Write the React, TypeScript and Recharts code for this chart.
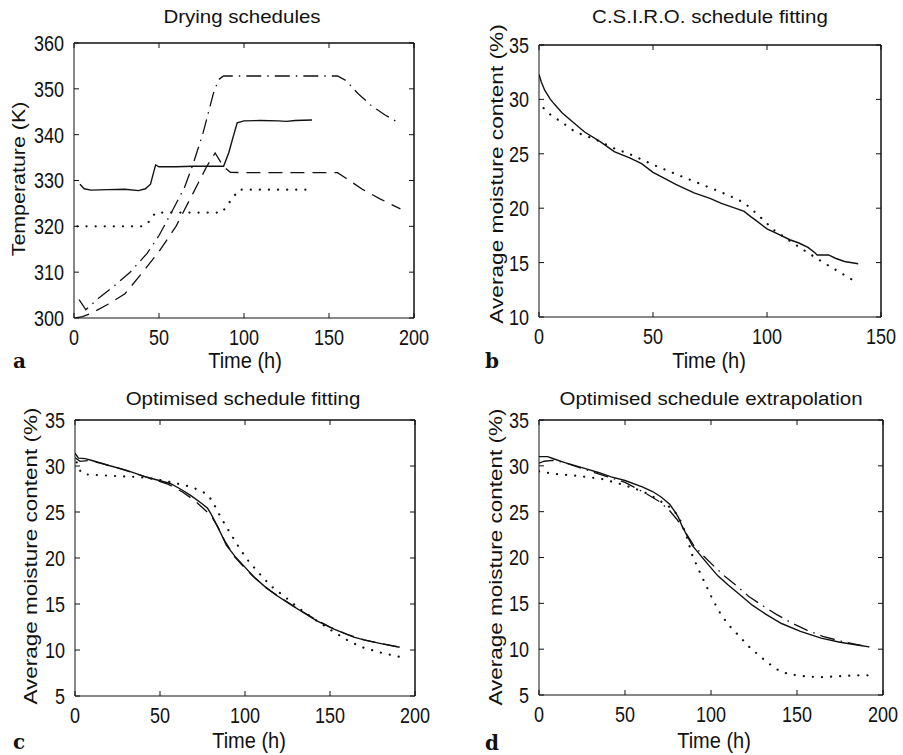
import { LineChart, Line, XAxis, YAxis, ReferenceLine } from "recharts";

// time (h), value pairs
const dryingSolid = [
  [3.5, 329.2], [6, 328.2], [10, 327.9], [20, 328], [30, 328.1], [38, 327.8], [42, 328.2],
  [45, 329.2], [48, 333.4], [50, 333], [60, 333], [70, 333.1], [80, 333.1], [88, 333.1],
  [91, 336], [94, 340], [96, 342.6], [100, 343], [110, 343.1], [120, 343], [125, 342.9],
  [130, 343.1], [140, 343.2],
];
const dryingDotted = [
  [2, 320], [40, 320], [43, 320.5], [48, 323], [87, 323], [92, 325.5], [97, 328], [137, 328],
];
const dryingDashed = [
  [1, 300], [5, 300.3], [10, 301], [20, 303], [30, 305.3], [40, 309.8], [50, 314.5],
  [60, 320], [70, 327.2], [78, 333], [83, 336], [88, 333], [92, 331.8], [100, 331.7],
  [120, 331.7], [140, 331.7], [155, 331.7], [160, 330.5], [170, 328], [180, 326], [192, 323.8],
];
const dryingDashDot = [
  [3, 304], [7, 301.8], [15, 304.5], [23, 306.8], [33, 310], [43, 314.1], [50, 318],
  [58, 323.5], [65, 328.5], [70, 333.5], [76, 340.5], [82, 349], [85, 352], [88, 352.8],
  [100, 352.8], [120, 352.8], [140, 352.8], [155, 352.8], [160, 351.8], [167, 349],
  [175, 346.3], [183, 344.3], [191, 342.6],
];

const csiroMeasured = [
  [0, 32.3], [1, 31.6], [2.5, 30.85], [5, 30], [7, 29.5], [10, 28.8], [13, 28.25], [20, 27],
  [27, 26.1], [33, 25.2], [40, 24.6], [45, 24.1], [50, 23.3], [54, 22.85], [60, 22.2],
  [68, 21.4], [75, 20.9], [80, 20.45], [86, 20], [90, 19.7], [93, 19.2], [95, 18.9],
  [100, 18.1], [104, 17.7], [110, 17.1], [114, 16.8], [118, 16.4], [121, 15.9], [122, 15.7],
  [127, 15.7], [130, 15.4], [134, 15.1], [140, 14.9],
];
const csiroModel = [
  [2, 29.2], [5, 28.6], [10, 27.9], [16, 27], [25, 26.3], [33, 25.5], [40, 24.95], [50, 24],
  [61, 23.05], [70, 22.3], [83, 21.2], [90, 20.5], [96, 19.4], [103, 18], [110, 17],
  [115, 16.3], [124, 15.1], [132, 14.1], [140, 13.1],
];

const fitMeasured = [
  [0, 31.4], [2, 30.85], [6, 30.8], [10, 30.6], [20, 30.05], [30, 29.55], [42, 28.8],
  [50, 28.4], [56, 28.1], [62, 27.5], [68, 26.8], [74, 26], [78, 25.4], [80, 24.8],
  [82.5, 23.9], [86, 22.6], [89, 21.4], [94, 20.2], [99, 19.2], [105, 18], [111, 17],
  [118, 16], [126, 15.05], [134, 14.1], [142, 13.2], [152, 12.3], [164, 11.4], [170, 11.1],
  [180, 10.7], [191, 10.3],
];
const fitOptimised = [
  [0, 30.9], [3, 30.5], [8, 30.6], [15, 30.3], [25, 29.8], [35, 29.2], [45, 28.6],
  [55, 28], [63, 27.2], [70, 26.3], [76, 25.3], [80, 24.6], [84, 23.4], [88, 21.9],
  [94, 20.1], [100, 18.9], [106, 17.8], [112, 16.8], [120, 15.8], [130, 14.6], [140, 13.5],
  [150, 12.5], [160, 11.7], [170, 11.1], [180, 10.7], [191, 10.3],
];
const fitCsiro = [
  [1, 30.4], [3, 29.5], [5, 29.1], [15, 29], [25, 28.9], [38, 28.8], [48, 28.55], [56, 28.25],
  [65, 27.9], [73, 27.4], [78, 26.9], [81, 26.1], [85, 24.7], [88, 23.7], [91, 22.8],
  [96, 21.3], [101, 19.9], [108, 18.4], [115, 17], [124, 15.7], [132, 14.5], [142, 13.2],
  [152, 12], [160, 11.1], [168, 10.35], [180, 9.7], [191, 9.25],
];

const extMeasured = [
  [0, 31], [5, 31], [8, 30.8], [15, 30.35], [27, 29.7], [35, 29.25], [42, 28.8], [50, 28.4],
  [60, 27.7], [66, 27.2], [71, 26.6], [76, 25.8], [79, 25], [81, 24.4], [83, 23.5],
  [86, 22.4], [89, 21.35], [94, 20.2], [98.5, 19.2], [104, 18], [110, 17], [117, 15.9],
  [124, 14.8], [132, 13.8], [141, 12.8], [152, 11.95], [164, 11.2], [175, 10.75],
  [185, 10.45], [192, 10.25],
];
const extOptimised = [
  [0, 30.3], [3, 30.5], [8, 30.6], [15, 30.35], [27, 29.6], [40, 28.8], [50, 28.2], [62, 27],
  [70, 26.1], [76, 25.1], [80, 24.2], [83, 23.4], [86, 22.5], [90, 21.3], [96, 20.1],
  [102, 19], [108, 17.95], [115, 16.9], [122, 15.75], [130, 14.75], [138, 13.8],
  [147, 12.85], [156, 12.05], [165, 11.4], [175, 10.9], [185, 10.5], [192, 10.25],
];
const extCsiro = [
  [0, 29.4], [10, 29.1], [20, 28.95], [36, 28.6], [46, 28.1], [56, 27.5], [64, 26.9],
  [71, 26.1], [76, 25.5], [79, 25], [82, 24.1], [84, 23.2], [86, 22.2], [89, 20.3],
  [93, 18.6], [97, 17], [101, 15.4], [106, 13.7], [111, 12.5], [116, 11.5], [123, 10.1],
  [130, 9], [136, 8.1], [141, 7.5], [148, 7.2], [157, 7], [165, 6.95], [175, 7.05],
  [185, 7.15], [192, 7.15],
];

const ticks0to200 = [0, 50, 100, 150, 200];
const ticks0to150 = [0, 50, 100, 150];
const tempTicks = [300, 310, 320, 330, 340, 350, 360];
const moistTicks35 = [10, 15, 20, 25, 30, 35];
const moistTicks5 = [5, 10, 15, 20, 25, 30, 35];

const SANS = '"Liberation Sans", Arial, sans-serif';
const INK = "#111";

const styles: Record<string, { dash?: string; width: number; cap?: "round" | "butt" }> = {
  solid: { width: 1.4 },
  dotted: { dash: "0.1 9", width: 2.2, cap: "round" },
  dashed: { dash: "14 8", width: 1.3 },
  dashdot: { dash: "15 6 1.5 6", width: 1.3 },
};

type Series = { pts: number[][]; kind: string };
type Box = { l: number; t: number; r: number; b: number };

const toRows = (pts: number[][]) => pts.map(([t, v]) => ({ t, v }));
const NoLabel = () => <g />;

// the scan's tick digits are drawn tall and narrow
const tickText = (anchor: "middle" | "end") => (p: any) => (
  <text transform={`translate(${p.x},${p.y}) scale(1,1.22)`} textAnchor={anchor} dy="0.36em"
    fontSize={18} fontFamily={SANS} fill={INK}>{p.payload.value}</text>
);
const BottomTick = tickText("middle");
const LeftTick = tickText("end");

function Panel({ box, xDomain, xTicks, yDomain, yTicks, series }: {
  box: Box; xDomain: number[]; xTicks: number[]; yDomain: number[]; yTicks: number[]; series: Series[];
}) {
  const padL = 70, padT = 20, padR = 30, padB = 50;
  const w = box.r - box.l + padL + padR;
  const h = box.b - box.t + padT + padB;
  const ink = { stroke: INK };
  return (
    <div style={{ position: "absolute", left: box.l - padL, top: box.t - padT }}>
      <LineChart width={w} height={h} margin={{ top: padT - 1, right: padR - 1, bottom: 0, left: 10 }}>
        <XAxis xAxisId="bottom" dataKey="t" type="number" domain={xDomain} ticks={xTicks} allowDataOverflow
          height={padB} tickSize={-5} tickMargin={24} tick={BottomTick} axisLine={ink} tickLine={ink} />
        <XAxis xAxisId="top" orientation="top" dataKey="t" type="number" domain={xDomain} ticks={xTicks}
          allowDataOverflow height={1} tickSize={-5} tick={NoLabel} axisLine={ink} tickLine={ink} />
        <YAxis yAxisId="left" type="number" domain={yDomain} ticks={yTicks} allowDataOverflow width={60}
          tickSize={-5} tickMargin={15} tick={LeftTick} axisLine={ink} tickLine={ink} />
        <YAxis yAxisId="right" orientation="right" type="number" domain={yDomain} ticks={yTicks}
          allowDataOverflow width={1} tickSize={-5} tick={NoLabel} axisLine={ink} tickLine={ink} />
        {/* frame edges along the far ends of the scales */}
        <ReferenceLine xAxisId="top" yAxisId="right" y={yDomain[1]} stroke={INK} ifOverflow="extendDomain" />
        <ReferenceLine xAxisId="top" yAxisId="right" x={xDomain[1]} stroke={INK} ifOverflow="extendDomain" />
        {series.map((s, i) => {
          const st = styles[s.kind];
          // first series is tied to the top/right frame axes (same scales), the rest to bottom/left
          const onFrame = i === 0;
          return (
            <Line key={i} data={toRows(s.pts)} dataKey="v" type="linear" dot={false}
              xAxisId={onFrame ? "top" : "bottom"} yAxisId={onFrame ? "right" : "left"}
              stroke={INK} strokeWidth={st.width} strokeDasharray={st.dash}
              strokeLinecap={st.cap ?? "butt"} isAnimationActive={false} />
          );
        })}
      </LineChart>
    </div>
  );
}

const boxA = { l: 74, t: 43, r: 414, b: 318 };
const boxB = { l: 539, t: 45, r: 881, b: 317 };
const boxC = { l: 75, t: 420, r: 415, b: 696 };
const boxD = { l: 539, t: 420, r: 883, b: 695 };

function Title({ x, y, text }: { x: number; y: number; text: string }) {
  return (
    <text transform={`translate(${x},${y}) scale(1,0.9)`} textAnchor="middle"
      fontFamily={SANS} fontSize={20.5} fill={INK}>{text}</text>
  );
}

function XLabel({ x, y }: { x: number; y: number }) {
  return (
    <text transform={`translate(${x},${y}) scale(1,1.08)`} textAnchor="middle"
      fontFamily={SANS} fontSize={20} fill={INK}>Time (h)</text>
  );
}

function YLabel({ x, y, text, stretch }: { x: number; y: number; text: string; stretch: number }) {
  return (
    <text transform={`translate(${x},${y}) rotate(-90) scale(${stretch},1)`} textAnchor="middle"
      fontFamily={SANS} fontSize={18} fill={INK}>{text}</text>
  );
}

function Texts() {
  const letter = { fontFamily: '"DejaVu Serif", "Liberation Serif", serif', fontSize: 20, fontWeight: 700, fill: INK };
  return (
    <svg width={903} height={755} style={{ position: "absolute", left: 0, top: 0, pointerEvents: "none" }}>
      <Title x={242} y={23} text="Drying schedules" />
      <Title x={710} y={23} text="C.S.I.R.O. schedule fitting" />
      <Title x={243} y={405} text="Optimised schedule fitting" />
      <Title x={711} y={405} text="Optimised schedule extrapolation" />

      <XLabel x={245} y={368} />
      <XLabel x={709} y={368} />
      <XLabel x={249} y={748} />
      <XLabel x={714} y={748} />

      <YLabel x={24.5} y={179} text="Temperature (K)" stretch={1.19} />
      <YLabel x={503} y={174} text="Average moisture content (%)" stretch={1.26} />
      <YLabel x={36.5} y={556} text="Average moisture content (%)" stretch={1.25} />
      <YLabel x={502} y={557} text="Average moisture content (%)" stretch={1.25} />

      <text x={13} y={368} {...letter}>a</text>
      <text x={485} y={368} {...letter}>b</text>
      <text x={13} y={749} {...letter}>c</text>
      <text x={485} y={750} {...letter}>d</text>
    </svg>
  );
}

export default function App() {
  return (
    <div style={{ position: "absolute", left: 0, top: 0, width: 903, height: 755, background: "#fff" }}>
      <Panel box={boxA} xDomain={[0, 200]} xTicks={ticks0to200} yDomain={[300, 360]} yTicks={tempTicks}
        series={[
          { pts: dryingSolid, kind: "solid" },
          { pts: dryingDotted, kind: "dotted" },
          { pts: dryingDashed, kind: "dashed" },
          { pts: dryingDashDot, kind: "dashdot" },
        ]} />
      <Panel box={boxB} xDomain={[0, 150]} xTicks={ticks0to150} yDomain={[10, 35]} yTicks={moistTicks35}
        series={[
          { pts: csiroMeasured, kind: "solid" },
          { pts: csiroModel, kind: "dotted" },
        ]} />
      <Panel box={boxC} xDomain={[0, 200]} xTicks={ticks0to200} yDomain={[5, 35]} yTicks={moistTicks5}
        series={[
          { pts: fitMeasured, kind: "solid" },
          { pts: fitOptimised, kind: "dashed" },
          { pts: fitCsiro, kind: "dotted" },
        ]} />
      <Panel box={boxD} xDomain={[0, 200]} xTicks={ticks0to200} yDomain={[5, 35]} yTicks={moistTicks5}
        series={[
          { pts: extMeasured, kind: "solid" },
          { pts: extOptimised, kind: "dashdot" },
          { pts: extCsiro, kind: "dotted" },
        ]} />
      <Texts />
    </div>
  );
}
